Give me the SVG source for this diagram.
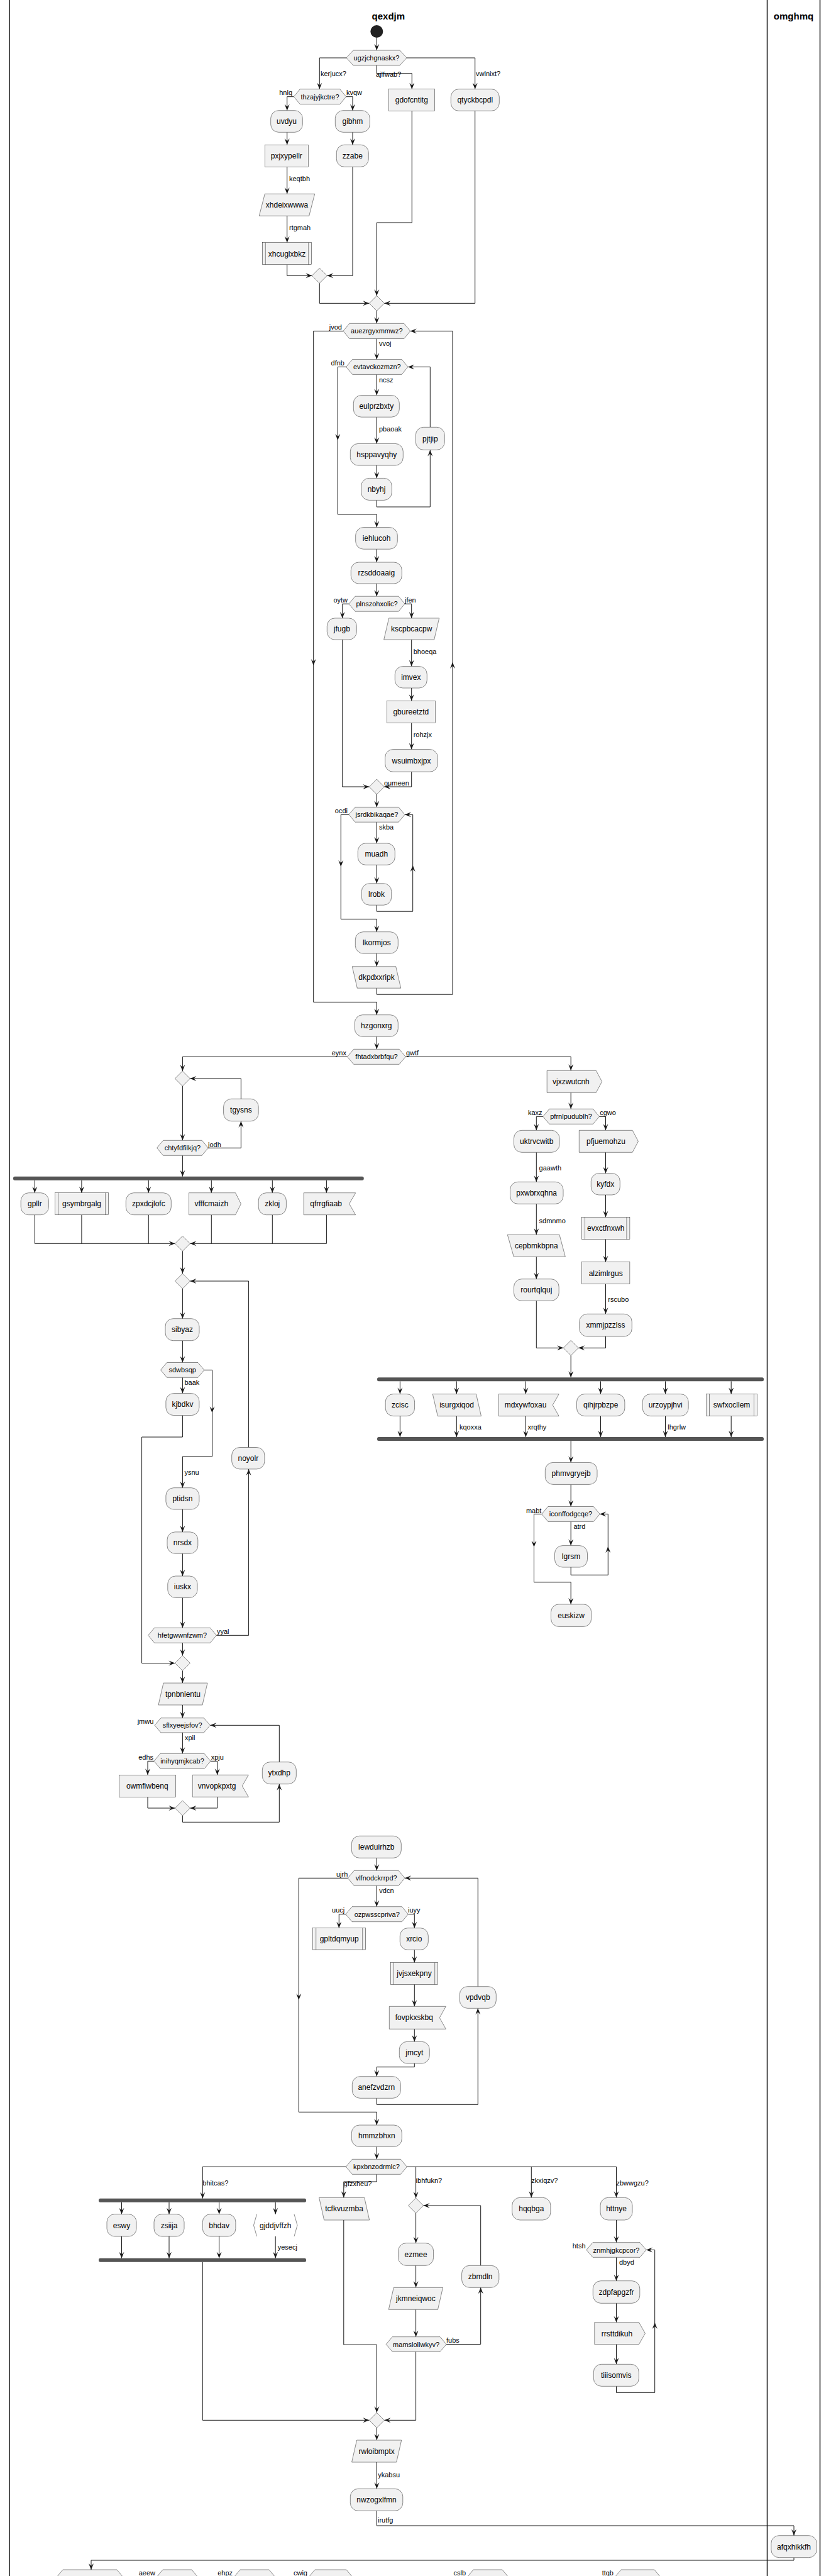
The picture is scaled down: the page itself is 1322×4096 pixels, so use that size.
<svg xmlns="http://www.w3.org/2000/svg" xmlns:xlink="http://www.w3.org/1999/xlink" width="1322" height="4096" viewBox="0 0 1322 4096">
<style>
.b{fill:#F1F1F1;stroke:#181818;stroke-width:0.5}
.g{fill:none;stroke:#181818;stroke-width:0.5}
.t{font-family:"Liberation Sans",Arial,sans-serif;font-size:12px;fill:#000;text-anchor:middle}
.d{font-family:"Liberation Sans",Arial,sans-serif;font-size:11px;fill:#000;text-anchor:middle}
.l{font-family:"Liberation Sans",Arial,sans-serif;font-size:11px;fill:#000;text-anchor:start}
.le{font-family:"Liberation Sans",Arial,sans-serif;font-size:11px;fill:#000;text-anchor:end}
.h{font-family:"Liberation Sans",Arial,sans-serif;font-size:15px;font-weight:bold;fill:#000;text-anchor:middle}
.c{fill:none;stroke:#181818;stroke-width:1}
.bar{fill:#555555}
.lane{stroke:#181818;stroke-width:1.5}
.a{fill:#181818}
</style>
<defs>
<path id="ad" class="a" d="M0,0 L-4,-10 L0,-6 L4,-10 Z"/>
<path id="au" class="a" d="M0,0 L-4,10 L0,6 L4,10 Z"/>
<path id="ar" class="a" d="M0,0 L-10,-4 L-6,0 L-10,4 Z"/>
<path id="al" class="a" d="M0,0 L10,-4 L6,0 L10,4 Z"/>
</defs>
<rect width="1322" height="4096" fill="#FFFFFF"/>
<g id="lanes">
<line class="lane" x1="15" y1="0" x2="15" y2="4096"/>
<line class="lane" x1="1220.5" y1="0" x2="1220.5" y2="4096"/>
<line class="lane" x1="1304.5" y1="0" x2="1304.5" y2="4096"/>
<text class="h" x="617.8" y="30.5">qexdjm</text>
<text class="h" x="1262.5" y="30.5">omghmq</text>
</g>
<g id="connectors">
<path class="c" d="M599.3,60 V80"/><use href="#ad" x="599.3" y="80"/>
<path class="c" d="M551,92 H508.3 V141.7"/><use href="#ad" x="508.3" y="141.7"/>
<path class="c" d="M599.3,104 V116.7 H655.3 V141.7"/><use href="#ad" x="655.3" y="141.7"/>
<path class="c" d="M647,92 H755.7 V141.7"/><use href="#ad" x="755.7" y="141.7"/>
<path class="c" d="M467.3,153.7 H456.7 V175.7"/><use href="#ad" x="456.7" y="175.7"/>
<path class="c" d="M550.7,153.7 H561 V175.7"/><use href="#ad" x="561" y="175.7"/>
<path class="c" d="M456.7,210.3 V230.3"/><use href="#ad" x="456.7" y="230.3"/>
<path class="c" d="M456.7,265.3 V308.3"/><use href="#ad" x="456.7" y="308.3"/>
<path class="c" d="M456.7,343.3 V385.7"/><use href="#ad" x="456.7" y="385.7"/>
<path class="c" d="M456.7,420.7 V438.3 H496.3"/><use href="#ar" x="496.3" y="438.3"/>
<path class="c" d="M561,210.3 V230.3"/><use href="#ad" x="561" y="230.3"/>
<path class="c" d="M561,265.3 V438.3 H520.3"/><use href="#al" x="520.3" y="438.3"/>
<path class="c" d="M655.3,176.3 V354 H599.3 V470.3"/><use href="#ad" x="599.3" y="470.3"/>
<path class="c" d="M755.7,176.3 V482.3 H611.3"/><use href="#al" x="611.3" y="482.3"/>
<path class="c" d="M508.3,450.3 V482.3 H587.3"/><use href="#ar" x="587.3" y="482.3"/>
<path class="c" d="M599.3,494.3 V514.3"/><use href="#ad" x="599.3" y="514.3"/>
<path class="c" d="M546,526.4 H498.7 V1593.4 H599.3 V1613.7"/><use href="#ad" x="498.7" y="1058"/><use href="#ad" x="599.3" y="1613.7"/>
<path class="c" d="M599.3,538.5 V571.4"/><use href="#ad" x="599.3" y="571.4"/>
<path class="c" d="M550.7,583.4 H537.3 V817.9 H599.3 V838.6"/><use href="#ad" x="537.3" y="700"/><use href="#ad" x="599.3" y="838.6"/>
<path class="c" d="M599.3,595.4 V628.6"/><use href="#ad" x="599.3" y="628.6"/>
<path class="c" d="M599.3,663.2 V705.4"/><use href="#ad" x="599.3" y="705.4"/>
<path class="c" d="M599.3,740 V760.4"/><use href="#ad" x="599.3" y="760.4"/>
<path class="c" d="M599.3,795.4 V806 H684.3 V715.4"/><use href="#au" x="684.3" y="715.4"/>
<path class="c" d="M684.3,679.3 V583.4 H649"/><use href="#al" x="649" y="583.4"/>
<path class="c" d="M599.3,873.2 V894"/><use href="#ad" x="599.3" y="894"/>
<path class="c" d="M599.3,928 V948.2"/><use href="#ad" x="599.3" y="948.2"/>
<path class="c" d="M555,960.2 H544.7 V982.9"/><use href="#ad" x="544.7" y="982.9"/>
<path class="c" d="M644,960.2 H654.7 V982.9"/><use href="#ad" x="654.7" y="982.9"/>
<path class="c" d="M544.7,1017.1 V1251 H587.3"/><use href="#ar" x="587.3" y="1251"/>
<path class="c" d="M654.7,1017.1 V1059.6"/><use href="#ad" x="654.7" y="1059.6"/>
<path class="c" d="M654.7,1094 V1114.3"/><use href="#ad" x="654.7" y="1114.3"/>
<path class="c" d="M654.7,1149.5 V1191.6"/><use href="#ad" x="654.7" y="1191.6"/>
<path class="c" d="M654.7,1227.2 V1251 H611.3"/><use href="#al" x="611.3" y="1251"/>
<path class="c" d="M599.3,1263 V1283.4"/><use href="#ad" x="599.3" y="1283.4"/>
<path class="c" d="M555,1295.3 H542.3 V1461.4 H599.3 V1481.7"/><use href="#ad" x="542.3" y="1378"/><use href="#ad" x="599.3" y="1481.7"/>
<path class="c" d="M599.3,1307.2 V1340.9"/><use href="#ad" x="599.3" y="1340.9"/>
<path class="c" d="M599.3,1375.3 V1404.8"/><use href="#ad" x="599.3" y="1404.8"/>
<path class="c" d="M599.3,1439.2 V1449.2 H656.7 V1295.3 H644"/><use href="#au" x="656.7" y="1376"/><use href="#al" x="644" y="1295.3"/>
<path class="c" d="M599.3,1516.1 V1536.8"/><use href="#ad" x="599.3" y="1536.8"/>
<path class="c" d="M599.3,1571.2 V1581.2 H720 V526.4 H652.7"/><use href="#au" x="720" y="1053"/><use href="#al" x="652.7" y="526.4"/>
<path class="c" d="M599.3,1648.2 V1668.3"/><use href="#ad" x="599.3" y="1668.3"/>
<path class="c" d="M552.6,1680.3 H290.4 V1703"/><use href="#ad" x="290.4" y="1703"/>
<path class="c" d="M645.2,1680.3 H908.2 V1702.3"/><use href="#ad" x="908.2" y="1702.3"/>
<path class="c" d="M290.4,1727 V1813.3"/><use href="#ad" x="290.4" y="1813.3"/>
<path class="c" d="M331.2,1825.3 H383.4 V1782.7"/><use href="#au" x="383.4" y="1782.7"/>
<path class="c" d="M383.4,1747.3 V1715 H302.4"/><use href="#al" x="302.4" y="1715"/>
<path class="c" d="M290.4,1837.3 V1870.7"/><use href="#ad" x="290.4" y="1870.7"/>
<path class="c" d="M55.3,1876.7 V1896.7 M129.9,1876.7 V1896.7 M236.3,1876.7 V1896.7 M336.3,1876.7 V1896.7 M433.3,1876.7 V1896.7 M519.4,1876.7 V1896.7"/>
<use href="#ad" x="55.3" y="1896.7"/><use href="#ad" x="129.9" y="1896.7"/><use href="#ad" x="236.3" y="1896.7"/><use href="#ad" x="336.3" y="1896.7"/><use href="#ad" x="433.3" y="1896.7"/><use href="#ad" x="519.4" y="1896.7"/>
<path class="c" d="M55.3,1931.7 V1977.3 H278.4 M129.9,1931.7 V1977.3 M236.3,1931.7 V1977.3 M519.4,1931.7 V1977.3 H302.4 M336.3,1931.7 V1977.3 M433.3,1931.7 V1977.3"/>
<use href="#ar" x="278.4" y="1977.3"/><use href="#al" x="302.4" y="1977.3"/>
<path class="c" d="M290.4,1989.3 V2025"/><use href="#ad" x="290.4" y="2025"/>
<path class="c" d="M290.4,2049 V2096.7"/><use href="#ad" x="290.4" y="2096.7"/>
<path class="c" d="M290.4,2131.7 V2166.5"/><use href="#ad" x="290.4" y="2166.5"/>
<path class="c" d="M290.4,2190.3 V2215.6"/><use href="#ad" x="290.4" y="2215.6"/>
<path class="c" d="M324.9,2178.4 H337.5 V2316 H290.4 V2365.7"/><use href="#ad" x="337.5" y="2246.5"/><use href="#ad" x="290.4" y="2365.7"/>
<path class="c" d="M290.4,2250.7 V2285 H225.6 V2644.5 H278.4"/><use href="#ar" x="278.4" y="2644.5"/>
<path class="c" d="M290.4,2400 V2435.9"/><use href="#ad" x="290.4" y="2435.9"/>
<path class="c" d="M290.4,2470.2 V2506"/><use href="#ad" x="290.4" y="2506"/>
<path class="c" d="M290.4,2540.4 V2588.4"/><use href="#ad" x="290.4" y="2588.4"/>
<path class="c" d="M344.3,2600.3 H395.6 V2335.9"/><use href="#au" x="395.6" y="2335.9"/>
<path class="c" d="M395.6,2301.5 V2037 H302.4"/><use href="#al" x="302.4" y="2037"/>
<path class="c" d="M290.4,2612.3 V2632.5"/><use href="#ad" x="290.4" y="2632.5"/>
<path class="c" d="M290.4,2656.5 V2676.1"/><use href="#ad" x="290.4" y="2676.1"/>
<path class="c" d="M290.4,2711 V2731.7"/><use href="#ad" x="290.4" y="2731.7"/>
<path class="c" d="M290.4,2755 V2788.3"/><use href="#ad" x="290.4" y="2788.3"/>
<path class="c" d="M245,2800.3 H235 V2822.3"/><use href="#ad" x="235" y="2822.3"/>
<path class="c" d="M335,2800.3 H345.7 V2822.3"/><use href="#ad" x="345.7" y="2822.3"/>
<path class="c" d="M235,2857.3 V2875 H278.4"/><use href="#ar" x="278.4" y="2875"/>
<path class="c" d="M345.7,2857.3 V2875 H302.4"/><use href="#al" x="302.4" y="2875"/>
<path class="c" d="M290.4,2887 V2897.3 H444.3 V2836.7"/><use href="#au" x="444.3" y="2836.7"/>
<path class="c" d="M444.3,2801.7 V2743.3 H334.3"/><use href="#al" x="334.3" y="2743.3"/>
<path class="c" d="M908.2,1737.3 V1763.3"/><use href="#ad" x="908.2" y="1763.3"/>
<path class="c" d="M863.9,1775.3 H853.3 V1797.3"/><use href="#ad" x="853.3" y="1797.3"/>
<path class="c" d="M953.4,1775.3 H963.5 V1797.3"/><use href="#ad" x="963.5" y="1797.3"/>
<path class="c" d="M853.3,1832.3 V1879.3"/><use href="#ad" x="853.3" y="1879.3"/>
<path class="c" d="M853.3,1914.3 V1963.3"/><use href="#ad" x="853.3" y="1963.3"/>
<path class="c" d="M853.3,1998.3 V2033.7"/><use href="#ad" x="853.3" y="2033.7"/>
<path class="c" d="M853.3,2068.3 V2143.3 H896.2"/><use href="#ar" x="896.2" y="2143.3"/>
<path class="c" d="M963.5,1832.3 V1865.7"/><use href="#ad" x="963.5" y="1865.7"/>
<path class="c" d="M963.5,1900 V1935.5"/><use href="#ad" x="963.5" y="1935.5"/>
<path class="c" d="M963.5,1970.5 V2006.7"/><use href="#ad" x="963.5" y="2006.7"/>
<path class="c" d="M963.5,2041.7 V2089.3"/><use href="#ad" x="963.5" y="2089.3"/>
<path class="c" d="M963.5,2125 V2143.3 H920.2"/><use href="#al" x="920.2" y="2143.3"/>
<path class="c" d="M908.2,2155.3 V2190.3"/><use href="#ad" x="908.2" y="2190.3"/>
<path class="c" d="M636.4,2196.3 V2216.6 M726.3,2196.3 V2216.6 M836.4,2196.3 V2216.6 M955.5,2196.3 V2216.6 M1058.5,2196.3 V2216.6 M1163.2,2196.3 V2216.6"/>
<use href="#ad" x="636.4" y="2216.6"/><use href="#ad" x="726.3" y="2216.6"/><use href="#ad" x="836.4" y="2216.6"/><use href="#ad" x="955.5" y="2216.6"/><use href="#ad" x="1058.5" y="2216.6"/><use href="#ad" x="1163.2" y="2216.6"/>
<path class="c" d="M636.4,2251.7 V2285 M726.3,2251.7 V2285 M836.4,2251.7 V2285 M955.5,2251.7 V2285 M1058.5,2251.7 V2285 M1163.2,2251.7 V2285"/>
<use href="#ad" x="636.4" y="2285"/><use href="#ad" x="726.3" y="2285"/><use href="#ad" x="836.4" y="2285"/><use href="#ad" x="955.5" y="2285"/><use href="#ad" x="1058.5" y="2285"/><use href="#ad" x="1163.2" y="2285"/>
<path class="c" d="M908.2,2291 V2325.4"/><use href="#ad" x="908.2" y="2325.4"/>
<path class="c" d="M908.2,2360.5 V2395.5"/><use href="#ad" x="908.2" y="2395.5"/>
<path class="c" d="M861.8,2407.4 H849.5 V2515.8 H908.2 V2550.9"/><use href="#ad" x="849.5" y="2460"/><use href="#ad" x="908.2" y="2550.9"/>
<path class="c" d="M908.2,2419.4 V2457.6"/><use href="#ad" x="908.2" y="2457.6"/>
<path class="c" d="M908.2,2492 V2504.3 H967.3 V2407.4 H954.2"/><use href="#au" x="967.3" y="2459"/><use href="#al" x="954.2" y="2407.4"/>
<path class="c" d="M599.3,2954.3 V2974.3"/><use href="#ad" x="599.3" y="2974.3"/>
<path class="c" d="M553.3,2986.3 H475.3 V3358.3 H599.3 V3379"/><use href="#ad" x="475.3" y="3180"/><use href="#ad" x="599.3" y="3379"/>
<path class="c" d="M599.3,2998.3 V3031.7"/><use href="#ad" x="599.3" y="3031.7"/>
<path class="c" d="M550,3043.7 H539.3 V3065.7"/><use href="#ad" x="539.3" y="3065.7"/>
<path class="c" d="M649.3,3043.7 H659.3 V3065.7"/><use href="#ad" x="659.3" y="3065.7"/>
<path class="c" d="M659.3,3100.3 V3120.7"/><use href="#ad" x="659.3" y="3120.7"/>
<path class="c" d="M659.3,3155.3 V3190.3"/><use href="#ad" x="659.3" y="3190.3"/>
<path class="c" d="M659.3,3226.3 V3246.3"/><use href="#ad" x="659.3" y="3246.3"/>
<path class="c" d="M659.3,3281 V3286.7 H599.3 V3301.7"/><use href="#ad" x="599.3" y="3301.7"/>
<path class="c" d="M599.3,3336.3 V3346.3 H760.3 V3193.3"/><use href="#au" x="760.3" y="3193.3"/>
<path class="c" d="M760.3,3158.7 V2986.3 H644"/><use href="#al" x="644" y="2986.3"/>
<path class="c" d="M599.3,3413.3 V3433.3"/><use href="#ad" x="599.3" y="3433.3"/>
<path class="c" d="M550.4,3445.3 H322.3 V3495.7"/><use href="#ad" x="322.3" y="3495.7"/>
<path class="c" d="M599.3,3457.3 V3469 H546.8 V3494.3"/><use href="#ad" x="546.8" y="3494.3"/>
<path class="c" d="M647.3,3445.3 H980.5 V3494.3 M661.6,3445.3 V3495 M845.3,3445.3 V3494.3"/><use href="#ad" x="980.5" y="3494.3"/><use href="#ad" x="661.6" y="3495"/><use href="#ad" x="845.3" y="3494.3"/>
<path class="c" d="M193.5,3501.7 V3520.7 M269,3501.7 V3520.7 M348.6,3501.7 V3520.7 M438.2,3501.7 V3520.7"/>
<use href="#ad" x="193.5" y="3520.7"/><use href="#ad" x="269" y="3520.7"/><use href="#ad" x="348.6" y="3520.7"/><use href="#ad" x="438.2" y="3520.7"/>
<path class="c" d="M193.5,3556 V3590.7 M269,3556 V3590.7 M348.6,3556 V3590.7 M438.2,3556 V3590.7"/>
<use href="#ad" x="193.5" y="3590.7"/><use href="#ad" x="269" y="3590.7"/><use href="#ad" x="348.6" y="3590.7"/><use href="#ad" x="438.2" y="3590.7"/>
<path class="c" d="M322.3,3596.7 V3848.3 H587.4"/><use href="#ar" x="587.4" y="3848.3"/>
<path class="c" d="M546.8,3530 V3728.3 H599.4 V3836.3"/><use href="#ad" x="599.4" y="3836.3"/>
<path class="c" d="M661.6,3519 V3566.7"/><use href="#ad" x="661.6" y="3566.7"/>
<path class="c" d="M661.6,3602.3 V3637.3"/><use href="#ad" x="661.6" y="3637.3"/>
<path class="c" d="M661.6,3672.3 V3715.7"/><use href="#ad" x="661.6" y="3715.7"/>
<path class="c" d="M710.1,3727.5 H764.7 V3637.3"/><use href="#au" x="764.7" y="3637.3"/>
<path class="c" d="M764.7,3602.3 V3507 H673.6"/><use href="#al" x="673.6" y="3507"/>
<path class="c" d="M661.6,3739.3 V3848.3 H611.4"/><use href="#al" x="611.4" y="3848.3"/>
<path class="c" d="M980.5,3530 V3565.7"/><use href="#ad" x="980.5" y="3565.7"/>
<path class="c" d="M980.5,3589.3 V3626.7"/><use href="#ad" x="980.5" y="3626.7"/>
<path class="c" d="M980.5,3662.3 V3692.7"/><use href="#ad" x="980.5" y="3692.7"/>
<path class="c" d="M980.5,3727.7 V3759.3"/><use href="#ad" x="980.5" y="3759.3"/>
<path class="c" d="M980.5,3794.3 V3804.3 H1041.7 V3577.5 H1028"/><use href="#au" x="1041.7" y="3693"/><use href="#al" x="1028" y="3577.5"/>
<path class="c" d="M599.4,3860.3 V3880"/><use href="#ad" x="599.4" y="3880"/>
<path class="c" d="M599.4,3915 V3957.3"/><use href="#ad" x="599.4" y="3957.3"/>
<path class="c" d="M599.4,3992.3 V4016 H1263 V4031.7"/><use href="#ad" x="1263" y="4031.7"/>
<path class="c" d="M1263,4066.7 V4071 H145 V4086"/><use href="#ad" x="145" y="4086"/>
</g>
<g id="labels">
<text class="l" x="510" y="121">kerjucx?</text>
<text class="l" x="598" y="122">ajlfwab?</text>
<text class="l" x="757" y="121">vwlnixt?</text>
<text class="le" x="465" y="151">hnlq</text>
<text class="l" x="551" y="151">kvqw</text>
<text class="l" x="460" y="288">keqtbh</text>
<text class="l" x="460" y="366">rtgmah</text>
<text class="le" x="544" y="524">jvod</text>
<text class="l" x="603" y="550">vvoj</text>
<text class="le" x="548" y="581">dfnb</text>
<text class="l" x="603" y="607.6">ncsz</text>
<text class="l" x="603" y="686">pbaoak</text>
<text class="le" x="553" y="958">oytw</text>
<text class="l" x="644" y="958">jfen</text>
<text class="l" x="657.7" y="1040.4">bhoeqa</text>
<text class="l" x="657.7" y="1172">rohzjx</text>
<text class="l" x="611" y="1249">oumeen</text>
<text class="le" x="553" y="1293">ocdi</text>
<text class="l" x="603" y="1319">skba</text>
<text class="le" x="551" y="1678">eynx</text>
<text class="l" x="646" y="1678">gwtf</text>
<text class="l" x="331" y="1824">jodh</text>
<text class="le" x="862.6" y="1773.3">kaxz</text>
<text class="l" x="954.2" y="1773.3">cgwo</text>
<text class="l" x="857.6" y="1860.7">gaawth</text>
<text class="l" x="857.6" y="1944.7">sdmnmo</text>
<text class="l" x="967.3" y="2070">rscubo</text>
<text class="l" x="293.4" y="2202">baak</text>
<text class="l" x="293.4" y="2345">ysnu</text>
<text class="l" x="345" y="2597.7">yyal</text>
<text class="l" x="731" y="2273.3">kqoxxa</text>
<text class="l" x="839.4" y="2273.3">xrqthy</text>
<text class="l" x="1062.3" y="2273.3">lhgrlw</text>
<text class="le" x="861.4" y="2405.8">mabt</text>
<text class="l" x="912.4" y="2431">atrd</text>
<text class="le" x="244.3" y="2741">jmwu</text>
<text class="l" x="294" y="2767">xpil</text>
<text class="le" x="244" y="2798">edhs</text>
<text class="l" x="335.7" y="2798">xpju</text>
<text class="le" x="553.3" y="2984">ujrh</text>
<text class="l" x="603.3" y="3010">vdcn</text>
<text class="le" x="548.3" y="3041.3">uucj</text>
<text class="l" x="649" y="3041.3">iuyy</text>
<text class="l" x="322.3" y="3475">bhitcas?</text>
<text class="l" x="546.8" y="3476">gfzxheu?</text>
<text class="l" x="661.6" y="3470.7">ibhfukn?</text>
<text class="l" x="845.3" y="3470.7">zkxiqzv?</text>
<text class="l" x="980.5" y="3475">zbwwgzu?</text>
<text class="l" x="441.7" y="3577.3">yesecj</text>
<text class="l" x="710" y="3725">fubs</text>
<text class="le" x="931.5" y="3575.3">htsh</text>
<text class="l" x="985" y="3600.7">dbyd</text>
<text class="l" x="601.2" y="3939">ykabsu</text>
<text class="l" x="601" y="4010.7">irutfg</text>
<text class="le" x="247" y="4095">aeew</text>
<text class="le" x="370" y="4095">ehpz</text>
<text class="le" x="489" y="4095">cwig</text>
<text class="le" x="741" y="4095">cslb</text>
<text class="le" x="976" y="4095">ttqb</text>
</g>
<g id="start"><circle cx="599.3" cy="50" r="10" fill="#222222"/></g>
<g id="ugzjchgnaskx"><polygon class="b" points="551,92 562,80 636,80 647,92 636,104 562,104"/><text class="d" x="599" y="96">ugzjchgnaskx?</text></g>
<g id="thzajyjkctre"><polygon class="b" points="467.3,153.7 477.3,141.7 540.7,141.7 550.7,153.7 540.7,165.7 477.3,165.7"/><text class="d" x="509" y="157.7">thzajyjkctre?</text></g>
<g id="uvdyu"><rect class="b" x="430.7" y="175.7" width="50.6" height="34.6" rx="12.5"/><text class="t" x="456" y="197">uvdyu</text></g>
<g id="pxjxypellr"><rect class="b" x="421.3" y="230.3" width="69" height="35"/><text class="t" x="455.8" y="252">pxjxypellr</text></g>
<g id="xhdeixwwwa"><polygon class="b" points="421.3,308.3 500.7,308.3 491.7,343.3 412.3,343.3"/><text class="t" x="456.5" y="330">xhdeixwwwa</text></g>
<g id="xhcuglxbkz"><rect class="b" x="417.3" y="385.7" width="78.4" height="35"/><line class="g" x1="422.3" y1="385.7" x2="422.3" y2="420.7"/><line class="g" x1="490.7" y1="385.7" x2="490.7" y2="420.7"/><text class="t" x="456.5" y="407.5">xhcuglxbkz</text></g>
<g id="m1"><polygon class="b" points="508.3,426.3 520.3,438.3 508.3,450.3 496.3,438.3"/></g>
<g id="gibhm"><rect class="b" x="533.3" y="175.7" width="55" height="34.6" rx="12.5"/><text class="t" x="560.8" y="197">gibhm</text></g>
<g id="zzabe"><rect class="b" x="535.3" y="230.3" width="51" height="35" rx="12.5"/><text class="t" x="560.8" y="252">zzabe</text></g>
<g id="gdofcntitg"><rect class="b" x="618.3" y="141.7" width="73" height="34.6"/><text class="t" x="654.8" y="163">gdofcntitg</text></g>
<g id="qtyckbcpdl"><rect class="b" x="717.3" y="141.7" width="77" height="34.6" rx="12.5"/><text class="t" x="755.8" y="163">qtyckbcpdl</text></g>
<g id="m2"><polygon class="b" points="599.3,470.3 611.3,482.3 599.3,494.3 587.3,482.3"/></g>
<g id="auezrgyxmmwz"><polygon class="b" points="546,526.4 556,514.3 642.7,514.3 652.7,526.4 642.7,538.5 556,538.5"/><text class="d" x="599.3" y="530.4">auezrgyxmmwz?</text></g>
<g id="evtavckozmzn"><polygon class="b" points="550.7,583.4 560.7,571.4 639,571.4 649,583.4 639,595.4 560.7,595.4"/><text class="d" x="599.8" y="587.4">evtavckozmzn?</text></g>
<g id="eulprzbxty"><rect class="b" x="562.3" y="628.6" width="73" height="34.6" rx="12.5"/><text class="t" x="598.8" y="650">eulprzbxty</text></g>
<g id="hsppavyqhy"><rect class="b" x="557.3" y="705.4" width="84" height="34.6" rx="12.5"/><text class="t" x="599.3" y="726.7">hsppavyqhy</text></g>
<g id="nbyhj"><rect class="b" x="574.7" y="760.4" width="48.6" height="35" rx="12.5"/><text class="t" x="599" y="782">nbyhj</text></g>
<g id="pjtjip"><rect class="b" x="661.3" y="679.3" width="46" height="36" rx="12.5"/><text class="t" x="684.3" y="701.5">pjtjip</text></g>
<g id="iehlucoh"><rect class="b" x="565.7" y="838.6" width="66.6" height="34.6" rx="12.5"/><text class="t" x="599" y="860">iehlucoh</text></g>
<g id="rzsddoaaig"><rect class="b" x="558.3" y="894" width="81" height="34" rx="12.5"/><text class="t" x="598.8" y="915">rzsddoaaig</text></g>
<g id="plnszohxolic"><polygon class="b" points="555,960.2 565,948.2 634,948.2 644,960.2 634,972.2 565,972.2"/><text class="d" x="599.5" y="964.2">plnszohxolic?</text></g>
<g id="jfugb"><rect class="b" x="520.3" y="982.9" width="47" height="34.2" rx="12.5"/><text class="t" x="543.8" y="1004">jfugb</text></g>
<g id="kscpbcacpw"><polygon class="b" points="618.7,982.9 698.7,982.9 690.7,1017.1 610.7,1017.1"/><text class="t" x="654.7" y="1004">kscpbcacpw</text></g>
<g id="imvex"><rect class="b" x="628.3" y="1059.6" width="51" height="34.4" rx="12.5"/><text class="t" x="653.8" y="1081">imvex</text></g>
<g id="gbureetztd"><rect class="b" x="615.3" y="1114.3" width="77" height="35.2"/><text class="t" x="653.8" y="1136">gbureetztd</text></g>
<g id="wsuimbxjpx"><rect class="b" x="612.7" y="1191.6" width="83.6" height="35.6" rx="12.5"/><text class="t" x="654.5" y="1213.5">wsuimbxjpx</text></g>
<g id="m3"><polygon class="b" points="599.3,1239 611.3,1251 599.3,1263 587.3,1251"/></g>
<g id="jsrdkbikaqae"><polygon class="b" points="555,1295.3 565,1283.4 634,1283.4 644,1295.3 634,1307.2 565,1307.2"/><text class="d" x="599.5" y="1299.3">jsrdkbikaqae?</text></g>
<g id="muadh"><rect class="b" x="569.3" y="1340.9" width="59" height="34.4" rx="12.5"/><text class="t" x="598.8" y="1362">muadh</text></g>
<g id="lrobk"><rect class="b" x="575.3" y="1404.8" width="47.4" height="34.4" rx="12.5"/><text class="t" x="599" y="1426">lrobk</text></g>
<g id="lkormjos"><rect class="b" x="565.3" y="1481.7" width="68" height="34.4" rx="12.5"/><text class="t" x="599.3" y="1503">lkormjos</text></g>
<g id="dkpdxxripk"><polygon class="b" points="560.3,1536.8 629.7,1536.8 637.7,1571.2 568.3,1571.2"/><text class="t" x="599" y="1558">dkpdxxripk</text></g>
<g id="hzgonxrg"><rect class="b" x="564.3" y="1613.7" width="69" height="34.5" rx="12.5"/><text class="t" x="598.8" y="1635">hzgonxrg</text></g>
<g id="fhtadxbrbfqu"><polygon class="b" points="552.6,1680.3 562.6,1668.3 635.2,1668.3 645.2,1680.3 635.2,1692.3 562.6,1692.3"/><text class="d" x="599" y="1684.3">fhtadxbrbfqu?</text></g>
<g id="m4"><polygon class="b" points="290.4,1703 302.4,1715 290.4,1727 278.4,1715"/></g>
<g id="chtyfdfilkjq"><polygon class="b" points="249.6,1825.3 259.6,1813.3 321.2,1813.3 331.2,1825.3 321.2,1837.3 259.6,1837.3"/><text class="d" x="290.4" y="1829.3">chtyfdfilkjq?</text></g>
<g id="tgysns"><rect class="b" x="355.6" y="1747.3" width="55.6" height="35.4" rx="12.5"/><text class="t" x="383.4" y="1769">tgysns</text></g>
<g id="bar1"><rect class="bar" x="21" y="1870.7" width="557.7" height="6" rx="2.5"/></g>
<g id="gpllr"><rect class="b" x="33.2" y="1896.7" width="44.2" height="35" rx="12.5"/><text class="t" x="55.3" y="1918">gpllr</text></g>
<g id="gsymbrgalg"><rect class="b" x="87.5" y="1896.7" width="85.1" height="35"/><line class="g" x1="92.5" y1="1896.7" x2="92.5" y2="1931.7"/><line class="g" x1="167.6" y1="1896.7" x2="167.6" y2="1931.7"/><text class="t" x="130" y="1918">gsymbrgalg</text></g>
<g id="zpxdcjlofc"><rect class="b" x="200.3" y="1896.7" width="72" height="35" rx="12.5"/><text class="t" x="236.3" y="1918">zpxdcjlofc</text></g>
<g id="vfffcmaizh"><polygon class="b" points="300.5,1896.7 374.6,1896.7 383.4,1914.2 374.6,1931.7 300.5,1931.7"/><text class="t" x="336.3" y="1918">vfffcmaizh</text></g>
<g id="zkloj"><rect class="b" x="411.2" y="1896.7" width="44.2" height="35" rx="12.5"/><text class="t" x="433.3" y="1918">zkloj</text></g>
<g id="qfrrgfiaab"><polygon class="b" points="483.2,1896.7 565.7,1896.7 555.6,1914.2 565.7,1931.7 483.2,1931.7"/><text class="t" x="518.7" y="1918">qfrrgfiaab</text></g>
<g id="m5"><polygon class="b" points="290.4,1965.3 302.4,1977.3 290.4,1989.3 278.4,1977.3"/></g>
<g id="m6"><polygon class="b" points="290.4,2025 302.4,2037 290.4,2049 278.4,2037"/></g>
<g id="sibyaz"><rect class="b" x="263" y="2096.7" width="54" height="35" rx="12.5"/><text class="t" x="290" y="2118">sibyaz</text></g>
<g id="sdwbsqp"><polygon class="b" points="255.5,2178.4 265.5,2166.5 314.9,2166.5 324.9,2178.4 314.9,2190.3 265.5,2190.3"/><text class="d" x="290.2" y="2182.4">sdwbsqp</text></g>
<g id="kjbdkv"><rect class="b" x="263.9" y="2215.6" width="53" height="35" rx="12.5"/><text class="t" x="290.4" y="2237">kjbdkv</text></g>
<g id="ptidsn"><rect class="b" x="263.9" y="2365.7" width="53" height="34.3" rx="12.5"/><text class="t" x="290.4" y="2387">ptidsn</text></g>
<g id="nrsdx"><rect class="b" x="266" y="2435.9" width="48.8" height="34.3" rx="12.5"/><text class="t" x="290.4" y="2457">nrsdx</text></g>
<g id="iuskx"><rect class="b" x="266.8" y="2506" width="47.2" height="34.4" rx="12.5"/><text class="t" x="290.4" y="2527">iuskx</text></g>
<g id="hfetgwwnfzwm"><polygon class="b" points="235.7,2600.3 245.7,2588.4 334.3,2588.4 344.3,2600.3 334.3,2612.3 245.7,2612.3"/><text class="d" x="290" y="2604.3">hfetgwwnfzwm?</text></g>
<g id="noyolr"><rect class="b" x="368.7" y="2301.5" width="52.2" height="34.4" rx="12.5"/><text class="t" x="394.8" y="2323">noyolr</text></g>
<g id="m7"><polygon class="b" points="290.4,2632.5 302.4,2644.5 290.4,2656.5 278.4,2644.5"/></g>
<g id="tpnbnientu"><polygon class="b" points="260,2676.1 330,2676.1 322,2711 252,2711"/><text class="t" x="291" y="2697.5">tpnbnientu</text></g>
<g id="sflxyeejsfov"><polygon class="b" points="246,2743.3 256,2731.7 324.3,2731.7 334.3,2743.3 324.3,2755 256,2755"/><text class="d" x="290.2" y="2747.3">sflxyeejsfov?</text></g>
<g id="inihyqmjkcab"><polygon class="b" points="245,2800.3 255,2788.3 325,2788.3 335,2800.3 325,2812.3 255,2812.3"/><text class="d" x="290" y="2804.3">inihyqmjkcab?</text></g>
<g id="owmfiwbenq"><rect class="b" x="189.3" y="2822.3" width="90" height="35"/><text class="t" x="234.3" y="2844">owmfiwbenq</text></g>
<g id="vnvopkpxtg"><polygon class="b" points="306.3,2822.3 395.3,2822.3 385.3,2839.8 395.3,2857.3 306.3,2857.3"/><text class="t" x="345.2" y="2844">vnvopkpxtg</text></g>
<g id="m8"><polygon class="b" points="290.4,2863 302.4,2875 290.4,2887 278.4,2875"/></g>
<g id="ytxdhp"><rect class="b" x="417.3" y="2801.7" width="54" height="35" rx="12.5"/><text class="t" x="444.3" y="2823">ytxdhp</text></g>
<g id="vjxzwutcnh"><polygon class="b" points="870.2,1702.3 948.3,1702.3 957.6,1719.8 948.3,1737.3 870.2,1737.3"/><text class="t" x="908.4" y="1724">vjxzwutcnh</text></g>
<g id="pfrnlpudublh"><polygon class="b" points="863.9,1775.3 873.9,1763.3 943.4,1763.3 953.4,1775.3 943.4,1787.3 873.9,1787.3"/><text class="d" x="908.6" y="1779.3">pfrnlpudublh?</text></g>
<g id="uktrvcwitb"><rect class="b" x="817.5" y="1797.3" width="72.5" height="35" rx="12.5"/><text class="t" x="853.7" y="1819">uktrvcwitb</text></g>
<g id="pxwbrxqhna"><rect class="b" x="811.5" y="1879.3" width="84.5" height="35" rx="12.5"/><text class="t" x="853.7" y="1901">pxwbrxqhna</text></g>
<g id="cepbmkbpna"><polygon class="b" points="807.3,1963.3 890,1963.3 899.3,1998.3 817.3,1998.3"/><text class="t" x="853.3" y="1985">cepbmkbpna</text></g>
<g id="rourtqlquj"><rect class="b" x="817.5" y="2033.7" width="71.7" height="34.6" rx="12.5"/><text class="t" x="853.3" y="2055">rourtqlquj</text></g>
<g id="pfjuemohzu"><polygon class="b" points="921.3,1797.3 1006.1,1797.3 1015.4,1814.8 1006.1,1832.3 921.3,1832.3"/><text class="t" x="964" y="1819">pfjuemohzu</text></g>
<g id="kyfdx"><rect class="b" x="940.3" y="1865.7" width="46" height="34.3" rx="12.5"/><text class="t" x="963.3" y="1887">kyfdx</text></g>
<g id="evxctfnxwh"><rect class="b" x="925.5" y="1935.5" width="76.4" height="35"/><line class="g" x1="930.5" y1="1935.5" x2="930.5" y2="1970.5"/><line class="g" x1="996.9" y1="1935.5" x2="996.9" y2="1970.5"/><text class="t" x="963.7" y="1957">evxctfnxwh</text></g>
<g id="alzimlrgus"><rect class="b" x="925.5" y="2006.7" width="76.4" height="35"/><text class="t" x="963.7" y="2028.5">alzimlrgus</text></g>
<g id="xmmjpzzlss"><rect class="b" x="921.7" y="2089.3" width="83.6" height="35.7" rx="12.5"/><text class="t" x="963.5" y="2111">xmmjpzzlss</text></g>
<g id="m9"><polygon class="b" points="908.2,2131.3 920.2,2143.3 908.2,2155.3 896.2,2143.3"/></g>
<g id="bar2"><rect class="bar" x="600" y="2190.3" width="615" height="6" rx="2.5"/></g>
<g id="zcisc"><rect class="b" x="613.2" y="2216.6" width="46.4" height="35" rx="12.5"/><text class="t" x="636.4" y="2238.3">zcisc</text></g>
<g id="isurgxiqod"><polygon class="b" points="688.3,2216.6 757.5,2216.6 765.5,2251.7 696.3,2251.7"/><text class="t" x="726.5" y="2238.3">isurgxiqod</text></g>
<g id="mdxywfoxau"><polygon class="b" points="793.4,2216.6 889.2,2216.6 879.2,2234.1 889.2,2251.7 793.4,2251.7"/><text class="t" x="836" y="2238.3">mdxywfoxau</text></g>
<g id="qihjrpbzpe"><rect class="b" x="917.5" y="2216.6" width="76.4" height="35" rx="12.5"/><text class="t" x="955.7" y="2238.3">qihjrpbzpe</text></g>
<g id="urzoypjhvi"><rect class="b" x="1022.2" y="2216.6" width="73" height="35" rx="12.5"/><text class="t" x="1058.7" y="2238.3">urzoypjhvi</text></g>
<g id="swfxocllem"><rect class="b" x="1123.5" y="2216.6" width="81" height="35"/><line class="g" x1="1128.5" y1="2216.6" x2="1128.5" y2="2251.6"/><line class="g" x1="1199.5" y1="2216.6" x2="1199.5" y2="2251.6"/><text class="t" x="1164" y="2238.3">swfxocllem</text></g>
<g id="bar3"><rect class="bar" x="600" y="2285" width="615" height="6" rx="2.5"/></g>
<g id="phmvgryejb"><rect class="b" x="867.3" y="2325.4" width="82.7" height="35" rx="12.5"/><text class="t" x="908.6" y="2347">phmvgryejb</text></g>
<g id="iconffodgcqe"><polygon class="b" points="861.8,2407.4 871.8,2395.5 944.2,2395.5 954.2,2407.4 944.2,2419.4 871.8,2419.4"/><text class="d" x="908" y="2411.4">iconffodgcqe?</text></g>
<g id="lgrsm"><rect class="b" x="882.5" y="2457.6" width="52" height="34.4" rx="12.5"/><text class="t" x="908.5" y="2479">lgrsm</text></g>
<g id="euskizw"><rect class="b" x="876.5" y="2550.9" width="64.2" height="35.5" rx="12.5"/><text class="t" x="908.6" y="2573">euskizw</text></g>
<g id="lewduirhzb"><rect class="b" x="559.3" y="2919.3" width="79" height="35" rx="12.5"/><text class="t" x="598.8" y="2941">lewduirhzb</text></g>
<g id="vlfnodckrrpd"><polygon class="b" points="553.3,2986.3 563.3,2974.3 634,2974.3 644,2986.3 634,2998.3 563.3,2998.3"/><text class="d" x="598.7" y="2990.3">vlfnodckrrpd?</text></g>
<g id="ozpwsscpriva"><polygon class="b" points="550,3043.7 560,3031.7 639.3,3031.7 649.3,3043.7 639.3,3055.7 560,3055.7"/><text class="d" x="599.7" y="3047.7">ozpwsscpriva?</text></g>
<g id="gpltdqmyup"><rect class="b" x="497.7" y="3065.7" width="84" height="34.3"/><line class="g" x1="502.7" y1="3065.7" x2="502.7" y2="3100"/><line class="g" x1="576.7" y1="3065.7" x2="576.7" y2="3100"/><text class="t" x="539.7" y="3087">gpltdqmyup</text></g>
<g id="xrcio"><rect class="b" x="636.3" y="3065.7" width="45" height="34.6" rx="12.5"/><text class="t" x="658.8" y="3087">xrcio</text></g>
<g id="jvjsxekpny"><rect class="b" x="621.3" y="3120.7" width="75.4" height="34.6"/><line class="g" x1="626.3" y1="3120.7" x2="626.3" y2="3155.3"/><line class="g" x1="691.7" y1="3120.7" x2="691.7" y2="3155.3"/><text class="t" x="659" y="3142">jvjsxekpny</text></g>
<g id="fovpkxskbq"><polygon class="b" points="619.3,3190.3 709.3,3190.3 699.3,3208.3 709.3,3226.3 619.3,3226.3"/><text class="t" x="658.8" y="3212">fovpkxskbq</text></g>
<g id="jmcyt"><rect class="b" x="635.3" y="3246.3" width="48" height="34.7" rx="12.5"/><text class="t" x="659.3" y="3268">jmcyt</text></g>
<g id="anefzvdzrn"><rect class="b" x="560.3" y="3301.7" width="77" height="34.6" rx="12.5"/><text class="t" x="598.8" y="3323">anefzvdzrn</text></g>
<g id="vpdvqb"><rect class="b" x="731.3" y="3158.7" width="58" height="34.6" rx="12.5"/><text class="t" x="760.3" y="3180">vpdvqb</text></g>
<g id="hmmzbhxn"><rect class="b" x="559.3" y="3379" width="80" height="34.3" rx="12.5"/><text class="t" x="599.3" y="3400">hmmzbhxn</text></g>
<g id="kpxbnzodrmlc"><polygon class="b" points="550.4,3445.3 560.4,3433.3 637.3,3433.3 647.3,3445.3 637.3,3457.3 560.4,3457.3"/><text class="d" x="598.9" y="3449.3">kpxbnzodrmlc?</text></g>
<g id="bar4"><rect class="bar" x="157" y="3495.7" width="330" height="6" rx="2.5"/></g>
<g id="eswy"><rect class="b" x="170" y="3520.7" width="47" height="35.3" rx="12.5"/><text class="t" x="193.5" y="3542.5">eswy</text></g>
<g id="zsiija"><rect class="b" x="245" y="3520.7" width="48" height="35.3" rx="12.5"/><text class="t" x="269" y="3542.5">zsiija</text></g>
<g id="bhdav"><rect class="b" x="322.3" y="3520.7" width="52.6" height="35.3" rx="12.5"/><text class="t" x="348.6" y="3542.5">bhdav</text></g>
<g id="gjddjvffzh"><polyline class="g" points="408.5,3520.7 403.5,3538.3 408.5,3556"/><polyline class="g" points="468,3520.7 473,3538.3 468,3556"/><text class="t" x="438.2" y="3542.5">gjddjvffzh</text></g>
<g id="bar5"><rect class="bar" x="157" y="3590.7" width="330" height="6" rx="2.5"/></g>
<g id="tcfkvuzmba"><polygon class="b" points="507.6,3494.3 579.7,3494.3 587.7,3530 515.6,3530"/><text class="t" x="547.6" y="3516">tcfkvuzmba</text></g>
<g id="m10"><polygon class="b" points="661.6,3495 673.6,3507 661.6,3519 649.6,3507"/></g>
<g id="ezmee"><rect class="b" x="633.6" y="3566.7" width="56" height="35.6" rx="12.5"/><text class="t" x="661.6" y="3588.5">ezmee</text></g>
<g id="jkmneiqwoc"><polygon class="b" points="626.3,3637.3 704.5,3637.3 696.5,3672.3 618.3,3672.3"/><text class="t" x="661.4" y="3659">jkmneiqwoc</text></g>
<g id="mamslollwkyv"><polygon class="b" points="614.2,3727.5 624.2,3715.7 700.1,3715.7 710.1,3727.5 700.1,3739.3 624.2,3739.3"/><text class="d" x="662.1" y="3731.5">mamslollwkyv?</text></g>
<g id="zbmdln"><rect class="b" x="734.6" y="3602.3" width="59.2" height="35" rx="12.5"/><text class="t" x="764.2" y="3624">zbmdln</text></g>
<g id="hqqbga"><rect class="b" x="814.7" y="3494.3" width="61.2" height="35.7" rx="12.5"/><text class="t" x="845.3" y="3516">hqqbga</text></g>
<g id="httnye"><rect class="b" x="955" y="3494.3" width="51" height="35.7" rx="12.5"/><text class="t" x="980.5" y="3516">httnye</text></g>
<g id="znmhjgkcpcor"><polygon class="b" points="933,3577.5 943,3565.7 1018,3565.7 1028,3577.5 1018,3589.3 943,3589.3"/><text class="d" x="980.5" y="3581.5">znmhjgkcpcor?</text></g>
<g id="zdpfapgzfr"><rect class="b" x="943.3" y="3626.7" width="74.5" height="35.6" rx="12.5"/><text class="t" x="980.5" y="3648.5">zdpfapgzfr</text></g>
<g id="rrsttdikuh"><polygon class="b" points="945.8,3692.7 1016.4,3692.7 1026.4,3710.2 1016.4,3727.7 945.8,3727.7"/><text class="t" x="981.5" y="3714.5">rrsttdikuh</text></g>
<g id="tiiisomvis"><rect class="b" x="944.3" y="3759.3" width="72" height="35" rx="12.5"/><text class="t" x="980.3" y="3781">tiiisomvis</text></g>
<g id="m11"><polygon class="b" points="599.4,3836.3 611.4,3848.3 599.4,3860.3 587.4,3848.3"/></g>
<g id="rwloibmptx"><polygon class="b" points="567.6,3880 638.7,3880 630.7,3915 559.6,3915"/><text class="t" x="599.2" y="3901.5">rwloibmptx</text></g>
<g id="nwzogxlfmn"><rect class="b" x="557.3" y="3957.3" width="83.5" height="35" rx="12.5"/><text class="t" x="599" y="3979">nwzogxlfmn</text></g>
<g id="afqxhikkfh"><rect class="b" x="1226.8" y="4031.7" width="72.5" height="35" rx="12.5"/><text class="t" x="1263" y="4053.5">afqxhikkfh</text></g>
<g id="bottom1"><polygon class="b" points="90,4098 100,4086 186,4086 196,4098 186,4110 100,4110"/></g>
<g id="bottom2"><polygon class="b" points="249,4098 259,4086 305,4086 315,4098 305,4110 259,4110"/></g>
<g id="bottom3"><polygon class="b" points="372,4098 382,4086 428,4086 438,4098 428,4110 382,4110"/></g>
<g id="bottom4"><polygon class="b" points="491,4098 501,4086 551,4086 561,4098 551,4110 501,4110"/></g>
<g id="bottom5"><polygon class="b" points="743,4098 753,4086 799,4086 809,4098 799,4110 753,4110"/></g>
<g id="bottom6"><polygon class="b" points="978,4098 988,4086 1041,4086 1051,4098 1041,4110 988,4110"/></g>
</svg>
